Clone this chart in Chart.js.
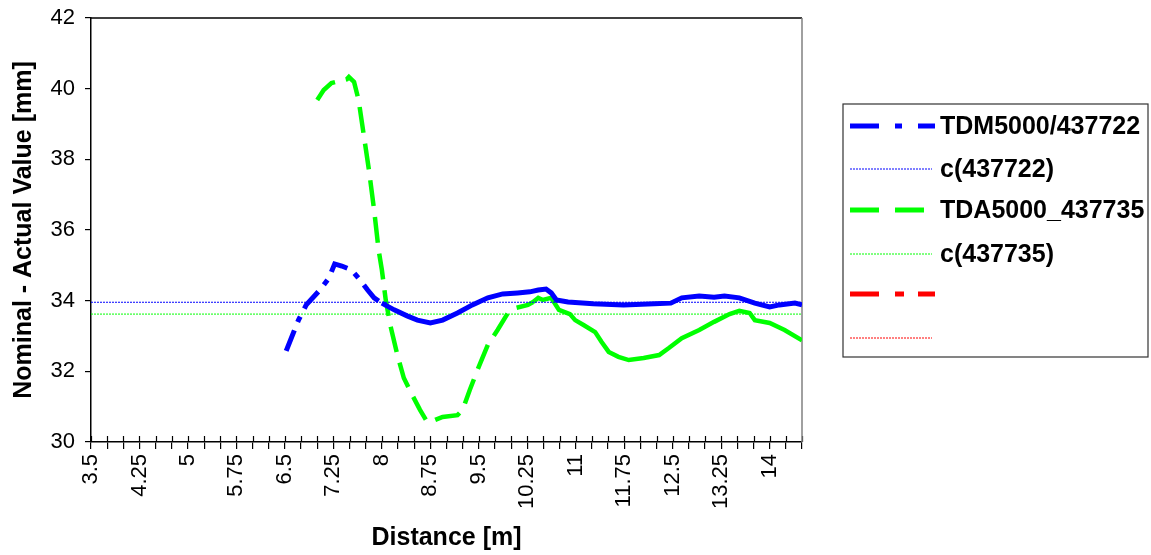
<!DOCTYPE html>
<html>
<head>
<meta charset="utf-8">
<script src="https://cdn.jsdelivr.net/npm/chart.js@4.4.1/dist/chart.umd.min.js"></script>
<style>
  html, body { margin: 0; padding: 0; background: #fff; }
  #wrap { position: relative; width: 1151px; height: 555px; }
</style>
</head>
<body>
<div id="wrap"><canvas id="distChart"></canvas></div>
<script>
// values
const distBlue = [6.52, 6.71, 6.83, 7.04, 7.18, 7.27, 7.38, 7.53, 7.66, 7.78, 7.88, 8.0, 8.19, 8.39, 8.55, 8.75,
    8.94, 9.17, 9.4, 9.64, 9.87, 10.1, 10.29, 10.42, 10.54, 10.62, 10.7, 10.88, 11.27, 11.74, 12.21, 12.47,
    12.64, 12.91, 13.14, 13.3, 13.53, 13.77, 14.0, 14.15, 14.39, 14.5];
const valBlue = [32.58, 33.45, 33.88, 34.3, 34.64, 35.04, 34.98, 34.87, 34.59, 34.3, 34.08, 33.93, 33.74, 33.57, 33.45, 33.37,
    33.45, 33.65, 33.88, 34.08, 34.19, 34.22, 34.25, 34.3, 34.33, 34.22, 34.02, 33.96, 33.91, 33.88, 33.91, 33.93,
    34.08, 34.13, 34.1, 34.13, 34.08, 33.93, 33.82, 33.88, 33.93, 33.88];

const distGreen = [7.0, 7.1, 7.22, 7.46, 7.49, 7.57, 7.64, 7.72, 7.8, 7.88, 7.95, 8.0, 8.06, 8.13, 8.24, 8.34,
    8.47, 8.59, 8.7, 8.78, 8.94, 9.17, 9.25, 9.36, 9.48, 9.64, 9.79, 9.95, 10.06, 10.26, 10.34, 10.42,
    10.49, 10.62, 10.74, 10.91, 10.99, 11.12, 11.3, 11.4, 11.51, 11.66, 11.82, 12.05, 12.29, 12.44,
    12.64, 12.91, 13.14, 13.38, 13.53, 13.69, 13.77, 14.0, 14.23, 14.5];
const valGreen = [39.68, 39.96, 40.16, 40.27, 40.33, 40.19, 39.68, 38.69, 37.7, 36.57, 35.43, 34.87, 34.02, 33.31, 32.46, 31.81,
    31.33, 30.91, 30.57, 30.59, 30.71, 30.76, 30.91, 31.47, 32.04, 32.75, 33.17, 33.65, 33.79, 33.88, 33.96, 34.08,
    34.02, 34.08, 33.74, 33.62, 33.45, 33.31, 33.11, 32.83, 32.55, 32.41, 32.32, 32.38, 32.46, 32.66,
    32.94, 33.17, 33.4, 33.62, 33.71, 33.65, 33.45, 33.37, 33.17, 32.88];

const refDist = [3.5, 14.5];
const refBlue = [33.955, 33.955];
const refGreen = [33.62, 33.62];

const seriesNames = ['TDM5000/437722', 'c(437722)', 'TDA5000_437735', 'c(437735)', '', ''];

const xMin = 3.5, xMax = 14.5, xStep = 0.25;
const yMin = 30, yMax = 42, yStep = 2;

const FONT = "'Liberation Sans', Arial, sans-serif";

const toPoints = (xs, ys) => xs.map((x, i) => ({ x, y: ys[i] }));

// Excel restarts the dash on every segment, so the dense part looks solid
const dashUntil = (limit, dash) => ctx => (ctx.p0.parsed.x < limit ? dash : undefined);

// plot frame: top black, right grey, x tick marks crossing the axis
const framePlugin = {
    id: 'frame',
    beforeDatasetsDraw(chart) {
        const { ctx, chartArea: a } = chart;
        ctx.save();
        ctx.lineWidth = 1.5;
        ctx.strokeStyle = '#000';
        ctx.beginPath();
        ctx.moveTo(a.left, a.top);
        ctx.lineTo(a.right, a.top);
        ctx.stroke();
        ctx.lineWidth = 1.2;
        const xs = chart.scales.x;
        xs.ticks.forEach(t => {
            const px = Math.round(xs.getPixelForValue(t.value)) + 0.5;
            ctx.beginPath();
            ctx.moveTo(px, a.bottom - 6);
            ctx.lineTo(px, a.bottom);
            ctx.stroke();
        });
        ctx.lineWidth = 1.5;
        ctx.strokeStyle = '#808080';
        ctx.beginPath();
        ctx.moveTo(a.right, a.top);
        ctx.lineTo(a.right, a.bottom);
        ctx.stroke();
        ctx.restore();
    }
};

// boxed legend on the right, Excel style
const legendPlugin = {
    id: 'boxLegend',
    afterDraw(chart) {
        const ctx = chart.ctx;
        const box = { left: 843, top: 104, right: 1148, bottom: 357 };
        ctx.save();
        ctx.strokeStyle = '#333';
        ctx.lineWidth = 1.2;
        ctx.strokeRect(box.left, box.top, box.right - box.left, box.bottom - box.top);
        const rows = [126, 169, 210, 254, 294, 338];
        chart.data.datasets.forEach((ds, i) => {
            const y = rows[i];
            ctx.strokeStyle = ds.borderColor;
            ctx.lineWidth = ds.legendWidth;
            ctx.setLineDash(ds.legendDash);
            ctx.beginPath();
            ctx.moveTo(850, y);
            ctx.lineTo(ds.legendWidth > 2 ? 935 : 932, y);
            ctx.stroke();
            ctx.setLineDash([]);
            if (ds.label) {
                ctx.fillStyle = '#000';
                ctx.font = 'bold 25px ' + FONT;
                ctx.textBaseline = 'middle';
                ctx.textAlign = 'left';
                ctx.fillText(ds.label, 940, y + 1);
            }
        });
        ctx.restore();
    }
};

new Chart(document.getElementById('distChart'), {
    type: 'line',
    data: {
        datasets: [
            {
                label: seriesNames[0],
                data: toPoints(distBlue, valBlue),
                borderColor: '#0000ff',
                borderWidth: 5,
                segment: { borderDash: dashUntil(8.0, [22, 9, 6, 9]) },
                legendDash: [29, 16, 7, 16],
                legendWidth: 5
            },
            {
                label: seriesNames[1],
                data: toPoints(refDist, refBlue),
                borderColor: '#0000ff',
                borderWidth: 1,
                borderDash: [2, 1],
                legendDash: [2, 1],
                legendWidth: 1
            },
            {
                label: seriesNames[2],
                data: toPoints(distGreen, valGreen),
                borderColor: '#00ff00',
                borderWidth: 4.5,
                segment: { borderDash: dashUntil(10.3, [26, 11]) },
                legendDash: [29, 16],
                legendWidth: 5
            },
            {
                label: seriesNames[3],
                data: toPoints(refDist, refGreen),
                borderColor: '#00ff00',
                borderWidth: 1,
                borderDash: [2, 1],
                legendDash: [2, 1],
                legendWidth: 1
            },
            {
                label: seriesNames[4],
                data: [],
                borderColor: '#ff0000',
                borderWidth: 5,
                legendDash: [29, 16, 9, 14],
                legendWidth: 5
            },
            {
                label: seriesNames[5],
                data: [],
                borderColor: '#ff0000',
                borderWidth: 1,
                legendDash: [2, 1],
                legendWidth: 1
            }
        ]
    },
    options: {
        responsive: true,
        maintainAspectRatio: false,
        animation: false,
        layout: { padding: { top: 18, right: 349, left: 0, bottom: 0 } },
        elements: { point: { radius: 0 }, line: { tension: 0 } },
        plugins: {
            legend: { display: false },
            tooltip: { enabled: false }
        },
        scales: {
            x: {
                type: 'linear',
                min: xMin,
                max: xMax,
                afterFit: s => {
                    s.height = 113;
                    s.paddingTop = 0;
                    s.paddingLeft = 0;
                    s.paddingRight = 0;
                },
                afterBuildTicks: s => {
                    const t = [];
                    for (let v = xMin; v <= xMax + 1e-9; v += xStep) t.push({ value: v });
                    s.ticks = t;
                },
                ticks: {
                    autoSkip: false,
                    minRotation: 90,
                    maxRotation: 90,
                    color: '#000',
                    font: { family: FONT, size: 22 },
                    padding: 5,
                    callback: (v, i) => (i % 3 === 0 ? String(v) : '')
                },
                grid: { drawOnChartArea: false, color: '#000', tickLength: 7, lineWidth: 1.2 },
                border: { color: '#000', width: 1.5 },
                title: {
                    display: true,
                    text: 'Distance [m]',
                    color: '#000',
                    font: { family: FONT, size: 25, weight: 'bold' },
                    padding: { top: 0, bottom: 2 }
                }
            },
            y: {
                min: yMin,
                max: yMax,
                afterFit: s => {
                    s.width = 91;
                    s.paddingTop = 0;
                    s.paddingBottom = 0;
                },
                ticks: {
                    stepSize: yStep,
                    color: '#000',
                    font: { family: FONT, size: 22 },
                    padding: 10
                },
                grid: { drawOnChartArea: false, color: '#000', tickLength: 6, lineWidth: 1.2 },
                border: { color: '#000', width: 1.5 },
                title: {
                    display: true,
                    text: 'Nominal - Actual Value [mm]',
                    color: '#000',
                    font: { family: FONT, size: 25, weight: 'bold' },
                    padding: { top: 9, bottom: 0 }
                }
            }
        }
    },
    plugins: [framePlugin, legendPlugin]
});
</script>
</body>
</html>
